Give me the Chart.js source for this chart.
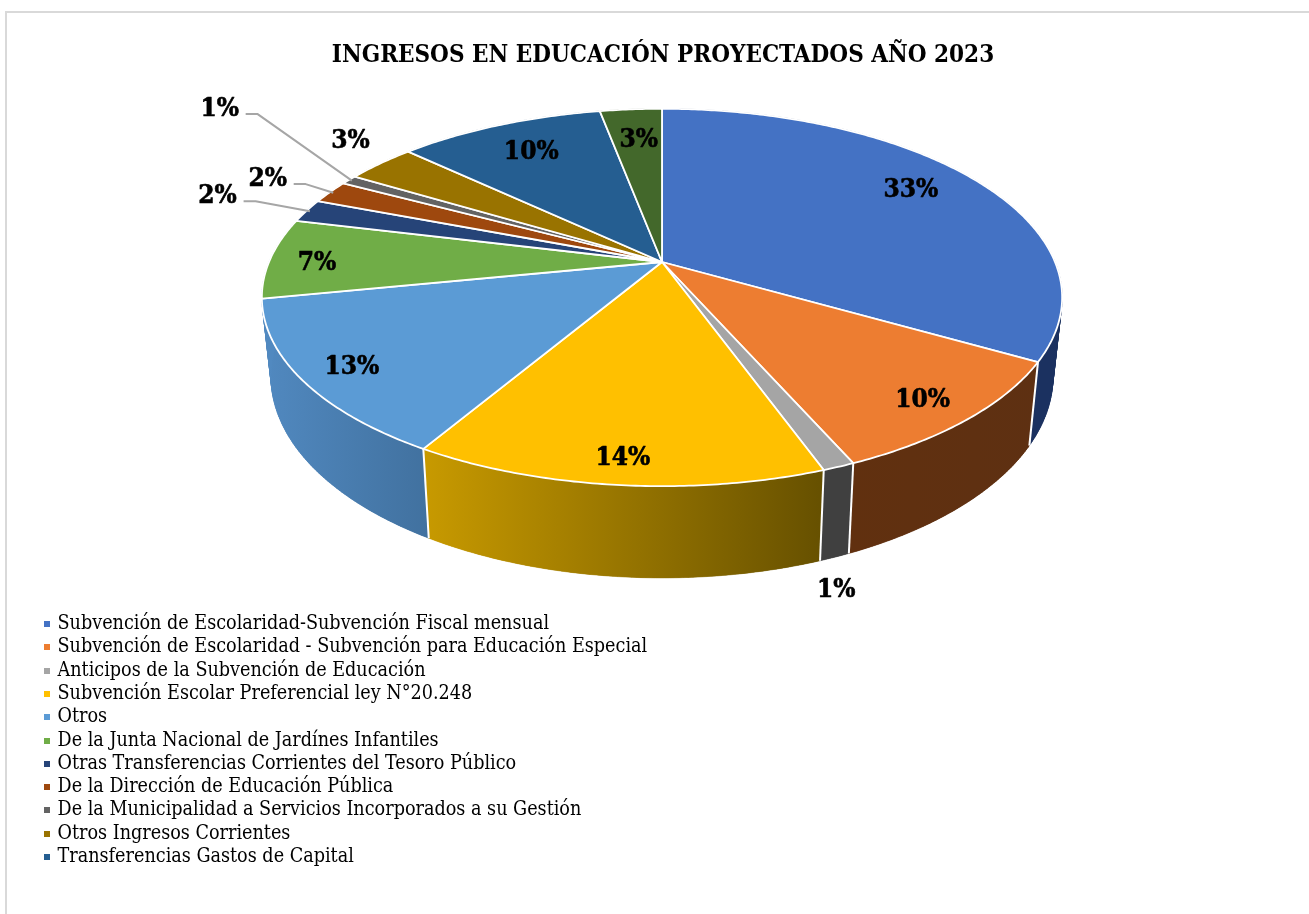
<!DOCTYPE html>
<html>
<head>
<meta charset="utf-8">
<title>Ingresos en educación</title>
<script src="https://cdn.jsdelivr.net/npm/chart.js@4"></script>
<style>
  html, body { margin: 0; padding: 0; background: #fff; overflow: hidden; }
  #marco { position: absolute; left: 5px; top: 11px; width: 1400px; height: 1000px; border: 2px solid #d9d9d9; }
  #grafico { position: absolute; left: 0; top: 0; }
</style>
</head>
<body>
<div id="marco"></div>
<canvas id="grafico" width="1309" height="914"></canvas>
<script>
const titulo = "INGRESOS EN EDUCACIÓN PROYECTADOS AÑO 2023";

const categorias = [
  "Subvención de Escolaridad-Subvención Fiscal mensual",
  "Subvención de Escolaridad - Subvención para Educación Especial",
  "Anticipos de la Subvención de Educación",
  "Subvención Escolar Preferencial ley N°20.248",
  "Otros",
  "De la Junta Nacional de Jardínes Infantiles",
  "Otras Transferencias Corrientes del Tesoro Público",
  "De la Dirección de Educación Pública",
  "De la Municipalidad a Servicios Incorporados a su Gestión",
  "Otros Ingresos Corrientes",
  "Transferencias Gastos de Capital",
  ""   // la última porción no aparece en la leyenda
];

// porcentajes
const valores = [33.3, 10.1, 1.1, 14.0, 13.4, 6.9, 2.0, 2.0, 0.8, 3.4, 10.0, 3.0];

const colores = ["#4472c4", "#ed7d31", "#a5a5a5", "#ffc000", "#5b9bd5", "#70ad47",
                 "#264478", "#9e480e", "#636363", "#997300", "#255e91", "#43682b"];

// pared lateral: color a la izquierda y a la derecha
const paredIzq = ["#1b3160", "#61300f", "#404040", "#c89a00", "#5189c0", "#5189c0",
                  "#182c4f", "#642d09", "#3f3f3f", "#614900", "#173b5c", "#2a421b"];
const paredDer = ["#1b3160", "#5e3012", "#404040", "#665000", "#41719f", "#5189c0",
                  "#182c4f", "#642d09", "#3f3f3f", "#614900", "#173b5c", "#2a421b"];

// etiqueta: radio relativo y giro (grados) respecto al centro de la porción
const radioEtiqueta = [0.811, 0.878, 1.382, 0.896, 0.879, 0.878, 1.277, 1.209, 1.674, 1.189, 0.785, 0.777];
const giroEtiqueta = [-2.3, 0.5, 7.9, -0.1, -0.5, -1.3, 0.7, 0.2, 7.4, 3.2, 0.2, 0.4];
const conGuia = [6, 7, 8];  // porciones con línea guía

const FUENTE = "'DejaVu Serif Condensed', 'DejaVu Serif', serif";

// perspectiva de la tapa y de la base
const tapa = { cx: 662, cy: 262, a: 393, b: 182, k: 0.188 };
const base = { cx: 662, cy: 339, a: 384, b: 194, k: 0.188 };

function proyectar(p, t, r) {
  const x = r * Math.sin(t), z = r * Math.cos(t);
  const d = 1 + p.k * z;
  return { x: p.cx + p.a * x / d, y: p.cy - p.b * z / d };
}

function etiquetaPct(v) {
  return Math.round(v) + "%";
}

// cuadrito de la leyenda
function cuadro(color) {
  const c = document.createElement("canvas");
  c.width = 6;
  c.height = 6;
  const g = c.getContext("2d");
  g.fillStyle = color;
  g.fillRect(0, 0, 6, 6);
  return c;
}

const pie3d = {
  id: "pie3d",
  beforeDatasetDraw(chart) {
    const ctx = chart.ctx;
    const arcos = chart.getDatasetMeta(0).data;
    const tramos = arcos.map(a => ({ t0: a.startAngle + Math.PI / 2, t1: a.endAngle + Math.PI / 2 }));

    ctx.save();
    ctx.lineJoin = "round";

    // paredes
    tramos.forEach((s, i) => {
      const pasos = Math.max(2, Math.ceil((s.t1 - s.t0) / 0.01));
      const arriba = [], abajo = [];
      for (let n = 0; n <= pasos; n++) {
        const t = s.t0 + (s.t1 - s.t0) * n / pasos;
        arriba.push(proyectar(tapa, t, 1));
        abajo.push(proyectar(base, t, 1));
      }
      const xs = arriba.concat(abajo).map(p => p.x);
      const grad = ctx.createLinearGradient(Math.min(...xs), 0, Math.max(...xs), 0);
      grad.addColorStop(0, paredIzq[i]);
      grad.addColorStop(1, paredDer[i]);
      ctx.fillStyle = grad;
      ctx.strokeStyle = grad;
      ctx.lineWidth = 0.5;
      // primero el contorno entero, para que no se vean costuras
      ctx.beginPath();
      arriba.forEach((p, n) => n ? ctx.lineTo(p.x, p.y) : ctx.moveTo(p.x, p.y));
      abajo.slice().reverse().forEach(p => ctx.lineTo(p.x, p.y));
      ctx.closePath();
      ctx.fill();
      // tiras para cubrir el borde donde la pared se dobla
      for (let n = 0; n < pasos; n++) {
        ctx.beginPath();
        ctx.moveTo(arriba[n].x, arriba[n].y);
        ctx.lineTo(arriba[n + 1].x, arriba[n + 1].y);
        ctx.lineTo(abajo[n + 1].x, abajo[n + 1].y);
        ctx.lineTo(abajo[n].x, abajo[n].y);
        ctx.closePath();
        ctx.fill();
        ctx.stroke();
      }
    });

    // separadores de las paredes visibles
    ctx.strokeStyle = "#ffffff";
    ctx.lineWidth = 2;
    tramos.forEach(s => {
      if (Math.abs(Math.sin(s.t0)) > 0.9 || Math.cos(s.t0) > 0) return;
      const p = proyectar(tapa, s.t0, 1), q = proyectar(base, s.t0, 1);
      ctx.beginPath();
      ctx.moveTo(p.x, p.y);
      ctx.lineTo(q.x, q.y);
      ctx.stroke();
    });

    // tapa
    tramos.forEach((s, i) => {
      const pasos = Math.max(2, Math.ceil((s.t1 - s.t0) / 0.01));
      ctx.beginPath();
      ctx.moveTo(tapa.cx, tapa.cy);
      for (let n = 0; n <= pasos; n++) {
        const p = proyectar(tapa, s.t0 + (s.t1 - s.t0) * n / pasos, 1);
        ctx.lineTo(p.x, p.y);
      }
      ctx.closePath();
      ctx.fillStyle = colores[i];
      ctx.fill();
      ctx.strokeStyle = "#ffffff";
      ctx.lineWidth = 1.8;
      ctx.stroke();
    });

    // líneas guía
    ctx.strokeStyle = "#a6a6a6";
    ctx.lineWidth = 2;
    conGuia.forEach(i => {
      const s = tramos[i];
      const medio = (s.t0 + s.t1) / 2;
      const e = proyectar(tapa, medio + giroEtiqueta[i] * Math.PI / 180, radioEtiqueta[i]);
      const fin = proyectar(tapa, medio, 0.99);
      ctx.beginPath();
      ctx.moveTo(e.x + 26, e.y + 6);
      ctx.lineTo(e.x + 38, e.y + 6);
      ctx.lineTo(fin.x, fin.y);
      ctx.stroke();
    });

    // etiquetas
    ctx.font = "bold 26px " + FUENTE;
    ctx.fillStyle = "#000000";
    ctx.strokeStyle = "#000000";
    ctx.lineWidth = 0.6;
    ctx.textAlign = "center";
    ctx.textBaseline = "middle";
    tramos.forEach((s, i) => {
      const medio = (s.t0 + s.t1) / 2;
      const e = proyectar(tapa, medio + giroEtiqueta[i] * Math.PI / 180, radioEtiqueta[i]);
      ctx.fillText(etiquetaPct(valores[i]), e.x, e.y + 1.5);
      ctx.strokeText(etiquetaPct(valores[i]), e.x, e.y + 1.5);
    });
    ctx.restore();
    return false;
  }
};

new Chart(document.getElementById("grafico"), {
  type: "pie",
  data: {
    labels: categorias,
    datasets: [{ data: valores, backgroundColor: colores }]
  },
  plugins: [pie3d],
  options: {
    responsive: false,
    animation: false,
    layout: { padding: { left: 43, right: 26, top: 0, bottom: 43.5 } },
    plugins: {
      tooltip: { enabled: false },
      title: {
        display: true,
        text: titulo,
        color: "#000000",
        font: { family: FUENTE, size: 24, weight: "bold" },
        padding: { top: 41, bottom: 10 }
      },
      legend: {
        position: "left",
        align: "end",
        labels: {
          usePointStyle: true,
          boxWidth: 1,
          boxHeight: 6,
          padding: 3.7,
          color: "#111111",
          font: { family: FUENTE, size: 19.6 },
          generateLabels: () => categorias.map((text, i) => ({
            text: text,
            pointStyle: cuadro(colores[i]),
            lineWidth: 0,
            hidden: false,
            index: i
          })),
          filter: item => item.text !== ""
        }
      }
    }
  }
});
</script>
</body>
</html>
